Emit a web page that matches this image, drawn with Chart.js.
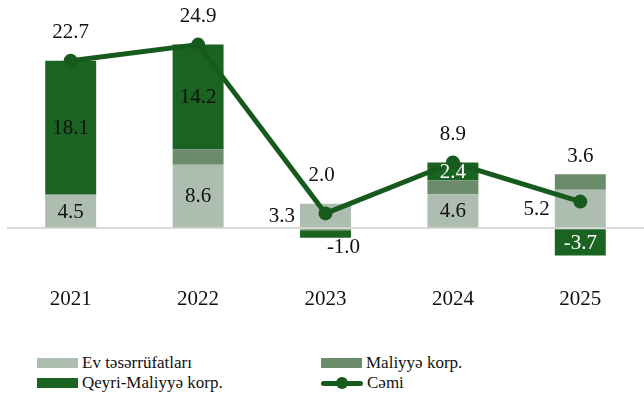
<!DOCTYPE html>
<html lang="az">
<head>
  <meta charset="UTF-8" />
  <title>Sektorlar üzrə</title>
  <script src="https://cdn.jsdelivr.net/npm/chart.js"></script>
  <style>
    body {
      margin: 0;
      width: 644px;
      height: 407px;
      overflow: hidden;
      background: #fff;
      font-family: "Liberation Serif", serif;
    }
    #chart {
      position: absolute;
      left: 0;
      top: 0;
    }
    .legend {
      position: absolute;
      font-size: 17px;
      color: #111;
      line-height: 20px;
      white-space: nowrap;
    }
    .legend span.box {
      display: inline-block;
      width: 41px;
      height: 10px;
      margin-right: 4px;
      vertical-align: 0px;
    }
    .legend span.ln {
      display: inline-block;
      position: relative;
      width: 42px;
      height: 10px;
      margin-right: 4px;
      vertical-align: 0px;
    }
    .ln:before {
      content: "";
      position: absolute;
      left: 0; right: 0; top: 3px;
      height: 5px;
      border-radius: 3px;
      background: #175a1e;
    }
    .ln:after {
      content: "";
      position: absolute;
      left: 15px; top: -1px;
      width: 12px; height: 12px;
      border-radius: 50%;
      background: #175a1e;
    }
  </style>
</head>
<body>
  <canvas id="chart" width="651" height="310"></canvas>

  <script>
  const years = ['2021', '2022', '2023', '2024', '2025'];
  const evTeserrufatlari = [4.5, 8.6, 3.3, 4.6, 5.2];
  const maliyyeKorp = [0.1, 2.1, -0.3, 1.9, 2.1];
  const qeyriMaliyyeKorp = [18.1, 14.2, -1.0, 2.4, -3.7];
  const cemi = [22.7, 24.9, 2.0, 8.9, 3.6];

  const colEv = '#adbdaf';
  const colMal = '#6a8c6b';
  const colQeyri = '#1b6321';
  const colLine = '#175a1e';

  // where each label sits
  const evPlace = ['in', 'in', 'left', 'in', 'left'];
  const qeyriPlace = ['in', 'in', 'below', 'in', 'in'];
  const qeyriText = ['#111', '#111', '#111', '#fff', '#fff'];
  const totalGap = [28, 28, 28, 28, 18];

  const labelFont = '21px "Liberation Serif", serif';

  const labelPlugin = {
    id: 'labels',
    afterDraw(chart) {
      const ctx = chart.ctx;
      ctx.save();
      ctx.font = labelFont;
      ctx.textBaseline = 'middle';
      const evBars = chart.getDatasetMeta(0).data;
      const malBars = chart.getDatasetMeta(1).data;
      const qBars = chart.getDatasetMeta(2).data;
      const pts = chart.getDatasetMeta(3).data;
      const fmt = v => v.toFixed(1);

      years.forEach((y, i) => {
        // households
        const e = evBars[i];
        const eMid = (e.y + e.base) / 2;
        ctx.fillStyle = '#111';
        if (evPlace[i] === 'left') {
          ctx.textAlign = 'right';
          ctx.fillText(fmt(evTeserrufatlari[i]), e.x - e.width / 2 - 5, eMid + 1);
        } else {
          ctx.textAlign = 'center';
          ctx.fillText(fmt(evTeserrufatlari[i]), e.x, eMid + 1);
        }
        // non-financial
        const q = qBars[i];
        ctx.fillStyle = qeyriText[i];
        ctx.textAlign = 'center';
        if (qeyriPlace[i] === 'below') {
          ctx.fillText(fmt(qeyriMaliyyeKorp[i]), q.x + 18, Math.max(q.y, q.base) + 10);
        } else {
          ctx.fillText(fmt(qeyriMaliyyeKorp[i]), q.x, (q.y + q.base) / 2 + 1);
        }
        // total
        const p = pts[i];
        const top = Math.min(p.y, e.y, malBars[i].y, q.y);
        ctx.fillStyle = '#111';
        ctx.fillText(fmt(cemi[i]), p.x - (i === 2 ? 4 : 0), top - totalGap[i]);
      });
      ctx.restore();
    }
  };

  const ctx = document.getElementById('chart').getContext('2d');
  new Chart(ctx, {
    data: {
      labels: years,
      datasets: [
        { type: 'bar', label: 'Ev təsərrüfatları', data: evTeserrufatlari, backgroundColor: colEv, stack: 's', order: 1 },
        { type: 'bar', label: 'Maliyyə korp.', data: maliyyeKorp, backgroundColor: colMal, stack: 's', order: 1 },
        { type: 'bar', label: 'Qeyri-Maliyyə korp.', data: qeyriMaliyyeKorp, backgroundColor: colQeyri, stack: 's', order: 1 },
        {
          type: 'line', label: 'Cəmi', data: cemi, stack: 'total', order: 0,
          borderColor: colLine, backgroundColor: colLine, borderWidth: 5,
          pointRadius: 7, pointBackgroundColor: colLine, pointBorderWidth: 0,
          tension: 0
        }
      ]
    },
    options: {
      responsive: false,
      animation: false,
      layout: { padding: { left: 7, right: 1, top: 5, bottom: 0 } },
      datasets: { bar: { barPercentage: 0.8, categoryPercentage: 0.5 } },
      plugins: { legend: { display: false }, tooltip: { enabled: false } },
      scales: {
        x: {
          stacked: true,
          grid: { display: false, drawTicks: false },
          border: { display: false },
          ticks: { color: '#111', font: { family: '"Liberation Serif", serif', size: 21 }, padding: 22 },
          afterFit: s => { s.height = 45; }
        },
        y: {
          stacked: true,
          min: -5,
          max: 30,
          ticks: { display: false },
          border: { display: false },
          grid: {
            drawTicks: false,
            lineWidth: 2,
            color: c => (c.tick && c.tick.value === 0 ? '#d9d9d9' : 'transparent')
          }
        }
      }
    },
    plugins: [labelPlugin]
  });

  // legend in two columns
  const legendItems = [
    { name: 'Ev təsərrüfatları', color: colEv, x: 37, y: 353 },
    { name: 'Maliyyə korp.', color: colMal, x: 321, y: 353 },
    { name: 'Qeyri-Maliyyə korp.', color: colQeyri, x: 37, y: 373 },
    { name: 'Cəmi', color: colLine, x: 321, y: 373, line: true }
  ];
  legendItems.forEach(it => {
    const d = document.createElement('div');
    d.className = 'legend';
    d.style.left = it.x + 'px';
    d.style.top = it.y + 'px';
    d.innerHTML = (it.line ? '<span class="ln"></span>' : '<span class="box" style="background:' + it.color + '"></span>') + it.name;
    document.body.appendChild(d);
  });
  </script>
</body>
</html>
